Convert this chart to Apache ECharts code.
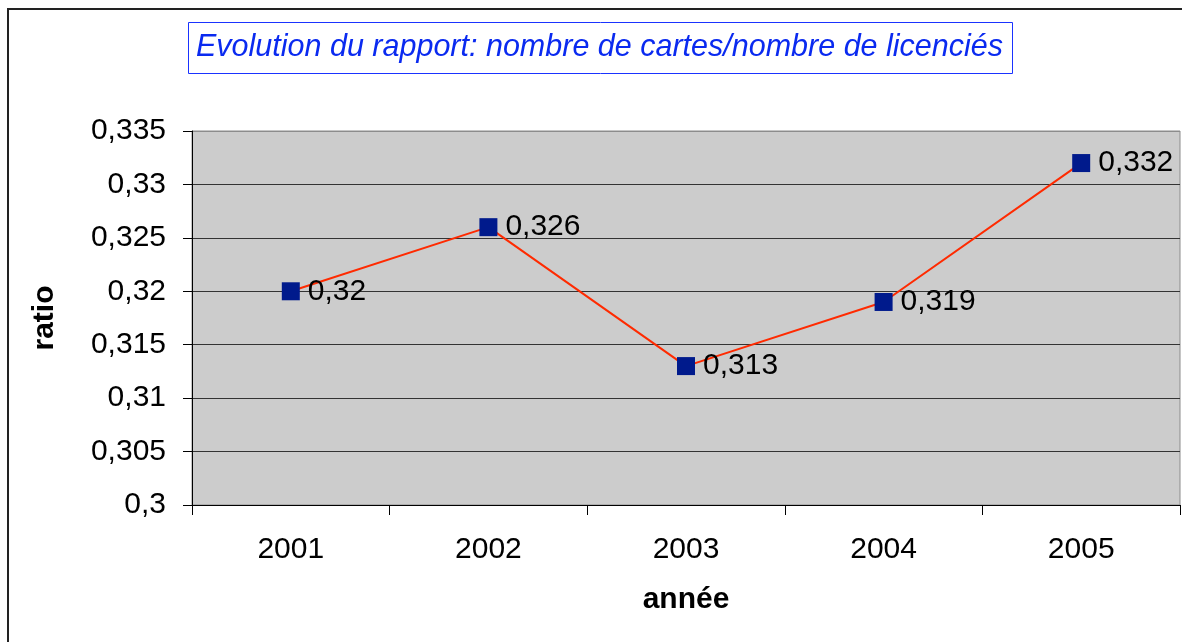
<!DOCTYPE html>
<html>
<head>
<meta charset="utf-8">
<script src="https://cdn.jsdelivr.net/npm/echarts@6/dist/echarts.min.js"></script>
<style>
html,body{margin:0;padding:0;background:#fff;}
#chart{width:1182px;height:642px;}
</style>
</head>
<body>
<div id="chart"></div>
<script>
const categories = ['2001', '2002', '2003', '2004', '2005'];
const ratios = [0.32, 0.326, 0.313, 0.319, 0.332];
const yMin = 0.3, yMax = 0.335, yStep = 0.005;
const titleText = 'Evolution du rapport: nombre de cartes/nombre de licenciés';
const xName = 'année';
const yName = 'ratio';

const fmt = v => String(parseFloat(Number(v).toFixed(3))).replace('.', ',');
const FONT = '"Liberation Sans", Arial, sans-serif';

const chart = echarts.init(document.getElementById('chart'), null, {renderer: 'canvas'});
const splitColors = [];
for (let i = 0; i <= Math.round((yMax - yMin) / yStep); i++) splitColors.push('#333333');
splitColors[splitColors.length - 1] = '#8c8c8c';

chart.setOption({
  backgroundColor: '#ffffff',
  animation: false,
  title: {
    text: titleText,
    left: 188,
    top: 22,
    padding: [10, 10, 10, 8],
    borderColor: '#1a33ff',
    borderWidth: 1,
    textStyle: {
      fontFamily: FONT,
      fontStyle: 'italic',
      fontWeight: 'normal',
      fontSize: 30.5,
      lineHeight: 32,
      color: '#0a2af0'
    }
  },
  graphic: [{
    type: 'rect',
    shape: {x: 8, y: 9, width: 1400, height: 900},
    style: {fill: 'none', stroke: '#222', lineWidth: 2},
    silent: true,
    z: -1
  }],
  grid: {
    left: 192,
    right: 2,
    top: 131,
    bottom: 137,
    show: true,
    backgroundColor: '#cccccc',
    borderColor: '#8c8c8c',
    borderWidth: 1
  },
  xAxis: {
    type: 'category',
    data: categories,
    boundaryGap: true,
    name: xName,
    nameLocation: 'middle',
    nameGap: 80,
    nameTextStyle: {fontFamily: FONT, fontWeight: 'bold', fontSize: 30, color: '#000'},
    axisLine: {show: true, lineStyle: {color: '#000', width: 1}},
    axisTick: {show: true, length: 10, inside: false, alignWithLabel: false, lineStyle: {color: '#000'}},
    axisLabel: {fontFamily: FONT, fontSize: 30, color: '#000', margin: 30},
    splitLine: {show: false}
  },
  yAxis: {
    type: 'value',
    min: yMin,
    max: yMax,
    interval: yStep,
    name: yName,
    nameLocation: 'middle',
    nameGap: 132,
    nameRotate: 90,
    nameTextStyle: {fontFamily: FONT, fontWeight: 'bold', fontSize: 30, color: '#000'},
    axisLine: {show: true, lineStyle: {color: '#000', width: 1}},
    axisTick: {show: true, length: 9, lineStyle: {color: '#000'}},
    axisLabel: {fontFamily: FONT, fontSize: 30, color: '#000', margin: 26, formatter: fmt},
    splitLine: {show: true, lineStyle: {color: splitColors, width: 1}}
  },
  series: [{
    type: 'line',
    data: ratios,
    symbol: 'rect',
    symbolSize: 18,
    itemStyle: {color: '#001a8c'},
    lineStyle: {color: '#ff2a00', width: 2},
    label: {
      show: true,
      position: 'right',
      distance: 8,
      fontFamily: FONT,
      fontSize: 30,
      color: '#000',
      formatter: p => fmt(p.value)
    }
  }]
});
</script>
</body>
</html>
